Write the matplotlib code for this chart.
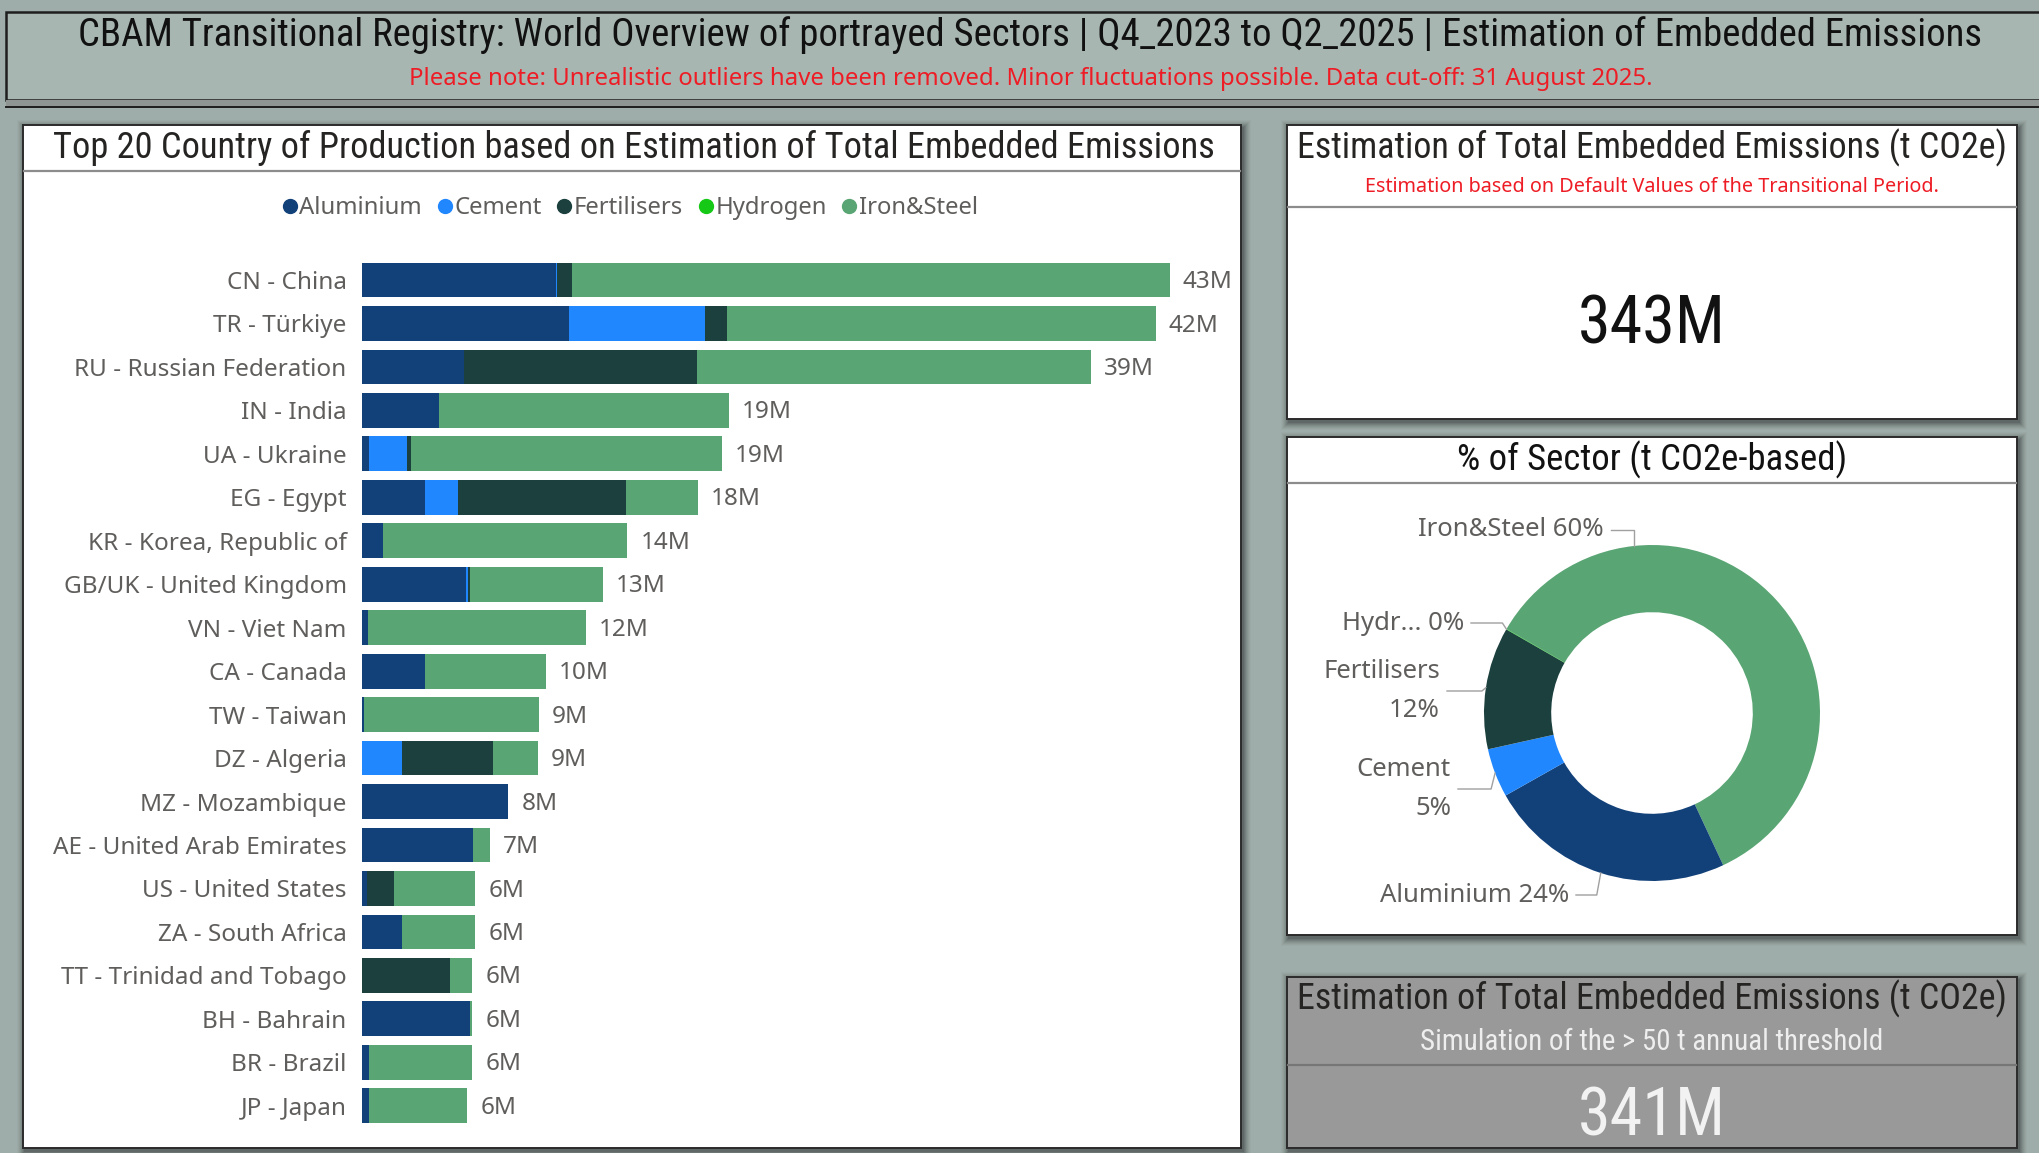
import matplotlib
matplotlib.use("Agg")
import matplotlib.pyplot as plt
import numpy as np
from matplotlib.patches import Rectangle
from matplotlib.lines import Line2D

# ---------------- data ----------------
countries = ["CN - China", "TR - Türkiye", "RU - Russian Federation", "IN - India", "UA - Ukraine",
             "EG - Egypt", "KR - Korea, Republic of", "GB/UK - United Kingdom", "VN - Viet Nam",
             "CA - Canada", "TW - Taiwan", "DZ - Algeria", "MZ - Mozambique",
             "AE - United Arab Emirates", "US - United States", "ZA - South Africa",
             "TT - Trinidad and Tobago", "BH - Bahrain", "BR - Brazil", "JP - Japan"]
sectors = ["Aluminium", "Cement", "Fertilisers", "Hydrogen", "Iron&Steel"]
# million t CO2e
aluminium   = [10.27, 10.94, 5.41, 4.07, 0.36, 3.31, 1.12, 5.53, 0.33, 3.31, 0.08, 0.00, 7.75, 5.87, 0.24, 2.13, 0.00, 5.71, 0.36, 0.36]
cement      = [0.06, 7.20, 0.00, 0.00, 2.04, 1.79, 0.00, 0.09, 0.00, 0.00, 0.00, 2.10, 0.00, 0.00, 0.00, 0.00, 0.00, 0.00, 0.00, 0.00]
fertilisers = [0.76, 1.16, 12.31, 0.00, 0.21, 8.88, 0.00, 0.12, 0.00, 0.00, 0.00, 4.86, 0.00, 0.00, 1.46, 0.00, 4.68, 0.00, 0.00, 0.00]
hydrogen    = [0.00] * 20
iron_steel  = [31.67, 22.71, 20.88, 15.35, 16.44, 3.80, 12.92, 7.02, 11.52, 6.41, 9.27, 2.34, 0.00, 0.88, 4.29, 3.86, 1.16, 0.12, 5.47, 5.20]

# donut (% of sector, t CO2e based), drawn clockwise in this order
donut_sectors = ["Iron&Steel", "Aluminium", "Cement", "Fertilisers", "Hydrogen"]
donut_share   = [59.70, 23.80, 4.70, 11.76, 0.04]
donut_labels  = ["Iron&Steel 60%", "Aluminium 24%", "Cement\n5%", "Fertilisers\n12%", "Hydr... 0%"]

kpi_total = "343M"
kpi_threshold = "341M"

# ---------------- style ----------------
colors = {"Aluminium": "#12417A", "Cement": "#2187FF", "Fertilisers": "#1B403E",
          "Hydrogen": "#17C917", "Iron&Steel": "#5AA574"}
W, H = 2040, 1153
GRAY_TXT = "#605E5C"
LABEL_FONT = ["Noto Sans", "DejaVu Sans"]
NUM_FONT = ["Roboto Condensed", "Liberation Sans Narrow", "DejaVu Sans"]
TITLE_FONT = NUM_FONT

fig = plt.figure(figsize=(W / 100, H / 100), dpi=100)
fig.patch.set_facecolor("#9EADA9")
renderer = fig.canvas.get_renderer()


def fit(t, target):
    for _ in range(3):
        w = t.get_window_extent(renderer).width
        t.set_fontsize(t.get_fontsize() * target / w)
    return t


def rect(x0, y0, x1, y1):
    return [x0 / W, 1 - y1 / H, (x1 - x0) / W, (y1 - y0) / H]


bg = fig.add_axes([0, 0, 1, 1], zorder=0)
bg.set_xlim(0, W)
bg.set_ylim(H, 0)
bg.axis("off")

fg = fig.add_axes([0, 0, 1, 1], zorder=10)
fg.set_xlim(0, W)
fg.set_ylim(H, 0)
fg.axis("off")
fg.patch.set_alpha(0)


def shadow(x0, y0, x1, y1):
    for k, a in zip(range(1, 9), [0.10, 0.08, 0.07, 0.06, 0.05, 0.04, 0.03, 0.02]):
        bg.add_patch(Rectangle((x0 - k + 2, y0 - k + 3), (x1 - x0) + 2 * k, (y1 - y0) + 2 * k,
                               facecolor="black", alpha=a, edgecolor="none", zorder=1))


def box(x0, y0, x1, y1, fc="white", sep=None, sepc="#8C8C8C"):
    shadow(x0, y0, x1, y1)
    bg.add_patch(Rectangle((x0, y0), x1 - x0, y1 - y0, facecolor=fc, edgecolor="#2B2B2B",
                           linewidth=1.4, zorder=2))
    if sep is not None:
        bg.plot([x0 + 1, x1 - 1], [sep, sep], color=sepc, lw=1.6, zorder=3)


def txt(x, y, s, target, color, family=TITLE_FONT, size=20, weight="normal"):
    t = bg.text(x, y, s, ha="center", va="center", fontsize=size, family=family,
                color=color, zorder=4, fontweight=weight)
    if target:
        fit(t, target)
    return t


# header band
bg.add_patch(Rectangle((6, 12), W, 88, facecolor="#A8B6B2", edgecolor="#1E1E1E", linewidth=1.8, zorder=2))
bg.add_patch(Rectangle((6, 100), W, 6, facecolor="#8E9593", edgecolor="none", zorder=2))
bg.plot([6, W], [106.5, 106.5], color="#1E1E1E", lw=1.4, zorder=3)
txt(1030, 35, "CBAM Transitional Registry: World Overview of portrayed Sectors | Q4_2023 to Q2_2025 | Estimation of Embedded Emissions",
    1910, "#111111")
txt(1031, 79, "Please note: Unrealistic outliers have been removed. Minor fluctuations possible. Data cut-off: 31 August 2025.",
    1240, "#EE1C25", family=LABEL_FONT)

# panels
box(23, 125, 1241, 1148, sep=171)
box(1287, 125, 2017, 419, sep=207)
box(1287, 437, 2017, 935, sep=483)
box(1287, 977, 2017, 1148, fc="#999999", sep=1065, sepc="#767676")

txt(634, 148, "Top 20 Country of Production based on Estimation of Total Embedded Emissions", 1157, "#252423")
txt(1652, 148, "Estimation of Total Embedded Emissions (t CO2e)", 709, "#252423")
txt(1652, 187, "Estimation based on Default Values of the Transitional Period.", 574, "#EE1C25", family=LABEL_FONT)
txt(1652, 326, kpi_total, 148, "#111111")
txt(1652, 460, "% of Sector (t CO2e-based)", 390, "#111111")
txt(1652, 999, "Estimation of Total Embedded Emissions (t CO2e)", 709, "#252423")
txt(1652, 1042, "Simulation of the > 50 t annual threshold", 463, "#EEEEEE")
txt(1652, 1117, kpi_threshold, 148, "#F2F2F2")

# ---------------- stacked bar chart ----------------
row_top, row_step = 280.0, 43.46
ax = fig.add_axes(rect(362, row_top - row_step / 2, 1231, row_top + row_step * 19.5), zorder=5)
ax.patch.set_alpha(0)
series = [aluminium, cement, fertilisers, hydrogen, iron_steel]
y = np.arange(len(countries))
left = np.zeros(len(countries))
for name, vals in zip(sectors, series):
    v = np.array(vals)
    ax.barh(y, v, left=left, height=0.8, color=colors[name], edgecolor="none", label=name)
    left += v
ax.set_xlim(0, 46)
ax.set_ylim(len(countries) - 0.5, -0.5)
ax.set_yticks(y)
ax.set_yticklabels(countries, fontsize=17.5, color=GRAY_TXT, family=LABEL_FONT)
ax.tick_params(axis="y", length=0, pad=11)
ax.set_xticks([])
for s in ax.spines.values():
    s.set_visible(False)
for yi, tot in zip(y, left):
    ax.annotate(f"{tot:.0f}M", (tot, yi), xytext=(9.5, -1.5), textcoords="offset points",
                ha="left", va="center", fontsize=17.5, color=GRAY_TXT, family=LABEL_FONT)

handles = [Line2D([], [], marker="o", linestyle="", markersize=10, color=colors[s]) for s in sectors]
fig.legend(handles, sectors, loc="center", bbox_to_anchor=(628 / W, 1 - 208 / H), ncol=5,
           frameon=False, handletextpad=-0.1, columnspacing=0.45, handlelength=1.0,
           prop={"family": LABEL_FONT, "size": 17.2}, labelcolor=GRAY_TXT)

# ---------------- donut ----------------
cx, cy, R = 1652, 713, 168
pax = fig.add_axes(rect(cx - 1.5 * R, cy - 1.5 * R, cx + 1.5 * R, cy + 1.5 * R), zorder=5)
wedges, _ = pax.pie(donut_share, colors=[colors[s] for s in donut_sectors], startangle=150,
                    counterclock=False, radius=1.0,
                    wedgeprops=dict(width=0.4, edgecolor="none"))
pax.set_xlim(-1.5, 1.5)
pax.set_ylim(-1.5, 1.5)

# label layout: (text right edge x, text centre y) in pixel space, anchor override angle
label_pos = {"Iron&Steel": (1604, 530, 96.0), "Aluminium": (1569, 895, None),
             "Cement": (1451, 789, None), "Fertilisers": (1440, 691, None),
             "Hydrogen": (1464, 623, None)}
to_fg = fg.transData.inverted()
for w, s, lab in zip(wedges, donut_sectors, donut_labels):
    tx, ty, ang = label_pos[s]
    if ang is None:
        ang = (w.theta1 + w.theta2) / 2
    a = np.deg2rad(ang)
    ax_pt = to_fg.transform(pax.transData.transform((np.cos(a) * 1.0, np.sin(a) * 1.0)))
    elbow_x = ax_pt[0] if s == "Iron&Steel" else ax_pt[0] - 4
    fg.plot([tx + 7, elbow_x, ax_pt[0]], [ty, ty, ax_pt[1]], color="#A0A0A0", lw=1.0)
    fg.text(tx, ty, lab, ha="right", va="center", multialignment="right", linespacing=1.75,
            fontsize=18.5, color=GRAY_TXT, family=LABEL_FONT)

fig.savefig("out.png", dpi=100, facecolor=fig.get_facecolor())
